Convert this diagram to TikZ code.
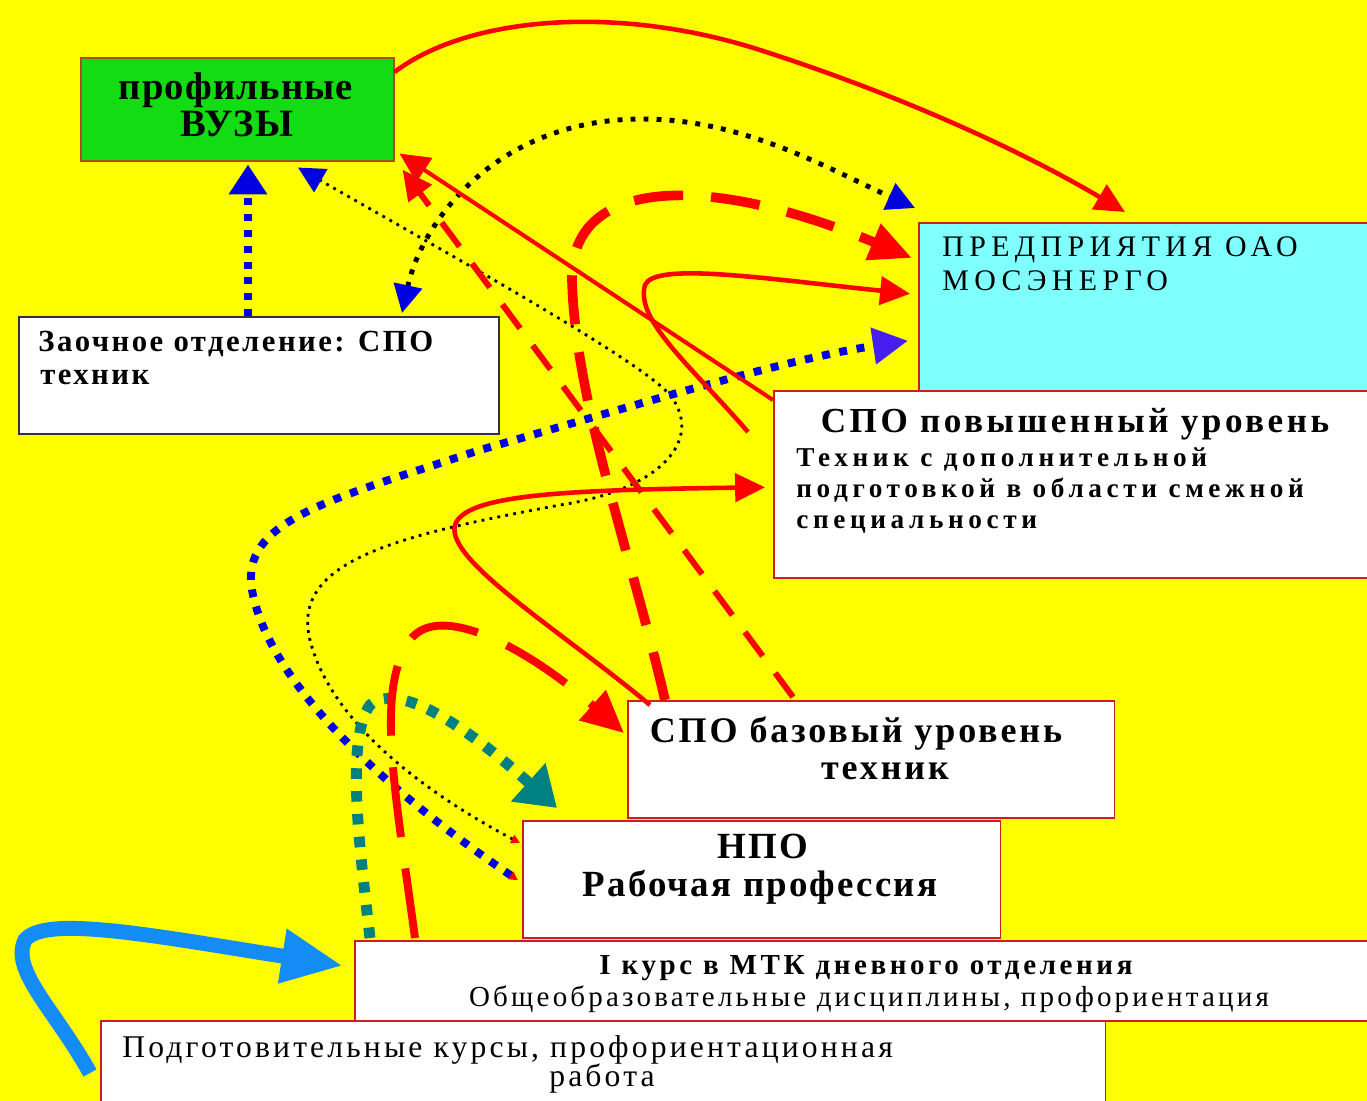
\documentclass[tikz,border=0pt]{standalone}
\usepackage{fontspec}
\setmainfont{Liberation Serif}
\usetikzlibrary{calc,arrows.meta}

\definecolor{bgyellow}{RGB}{255,255,0}
\definecolor{vuzgreen}{RGB}{20,220,20}
\definecolor{vuzedge}{RGB}{170,80,20}
\definecolor{zaoedge}{RGB}{50,50,60}
\definecolor{predcyan}{RGB}{128,255,255}
\definecolor{edgered}{RGB}{205,30,30}
\definecolor{linered}{RGB}{255,0,0}
\definecolor{dotblue}{RGB}{0,0,225}
\definecolor{tipviolet}{RGB}{70,30,240}
\definecolor{dotteal}{RGB}{0,128,128}
\definecolor{skyarrow}{RGB}{20,140,245}

\begin{document}
\begin{tikzpicture}[
x=0.02cm,
y=-0.02cm,
stagebox/.style={rectangle, draw=edgered, line width=0.9pt, fill=white, anchor=north west, inner sep=0pt},
boldline/.style 2 args={inner sep=0pt, font=\fontsize{#1}{#1}\selectfont\bfseries\addfontfeature{LetterSpace=#2}},
plainline/.style 2 args={inner sep=0pt, font=\fontsize{#1}{#1}\selectfont\addfontfeature{LetterSpace=#2}},
redsolid/.style={draw=linered, line width=2.6pt, -{Triangle[length=17pt,width=16pt]}},
blackdots/.style={draw=black, line width=2.8pt, dash pattern=on 2.8pt off 4.6pt},
bluedots/.style={draw=dotblue, line width=4pt, dash pattern=on 4pt off 5pt},
finedots/.style={draw=black, line width=1.6pt, dash pattern=on 1.6pt off 3pt},
bluedotsthick/.style={draw=dotblue, line width=4.5pt, dash pattern=on 4.5pt off 5.5pt},
tealdots/.style={draw=dotteal, line width=6.2pt, dash pattern=on 6pt off 7pt},
reddash/.style={draw=linered, line width=4.5pt, dash pattern=on 40pt off 18pt},
reddashwide/.style={draw=linered, line width=5.5pt, dash pattern=on 28pt off 16pt},
reddashthin/.style={draw=linered, line width=3.4pt, dash pattern=on 17pt off 12pt},
skypath/.style={draw=skyarrow, line width=8.5pt, -{Triangle[length=35pt,width=29pt]}},
]
\useasboundingbox (0,0) rectangle (1367,1101);
\clip (0,0) rectangle (1367,1101);
\fill[bgyellow] (0,0) rectangle (1367,1101);

\node[stagebox, draw=vuzedge, fill=vuzgreen, minimum width=6.26cm, minimum height=2.06cm] (vuz) at (80,57) {};
\node[stagebox, draw=zaoedge, line width=1.2pt, minimum width=9.6cm, minimum height=2.34cm] (zao) at (18,316) {};
\node[stagebox, fill=predcyan, minimum width=9.2cm, minimum height=3.36cm] (pred) at (918,222) {};
\node[stagebox, minimum width=12cm, minimum height=3.74cm] (povysh) at (773,390) {};
\node[stagebox, minimum width=9.74cm, minimum height=2.34cm] (base) at (627,700) {};
\node[stagebox, minimum width=9.56cm, minimum height=2.34cm] (npo) at (522,820) {};
\node[stagebox, minimum width=20.4cm, minimum height=1.6cm] (kurs) at (354,940) {};
\node[stagebox, minimum width=20.1cm, minimum height=1.8cm] (podg) at (100,1020) {};

\node[boldline={22}{3}, anchor=base] (vuzA) at (236,100) {профильные};
\node[boldline={22}{3}, anchor=base] (vuzB) at (237,137) {ВУЗЫ};
\node[boldline={17.5}{8}, anchor=base west] (zaoA) at (38,352) {Заочное отделение: СПО};
\node[boldline={17.5}{8}, anchor=base west] (zaoB) at (40,385) {техник};
\node[plainline={17}{18}, anchor=base west] (predA) at (942,257) {ПРЕДПРИЯТИЯ ОАО};
\node[plainline={17}{18}, anchor=base west] (predB) at (942,291) {МОСЭНЕРГО};
\node[boldline={20}{10}, anchor=base] (povyshA) at (1075,433) {СПО повышенный уровень};
\node[boldline={15.5}{17}, anchor=base west] (povyshB) at (796,467) {Техник с дополнительной};
\node[boldline={15.5}{17}, anchor=base west] (povyshC) at (796,498) {подготовкой в области смежной};
\node[boldline={15.5}{17}, anchor=base west] (povyshD) at (796,529) {специальности};
\node[boldline={20.5}{8}, anchor=base] (baseA) at (856,743) {СПО базовый уровень};
\node[boldline={20.5}{8}, anchor=base] (baseB) at (885,779) {техник};
\node[boldline={21}{6}, anchor=base] (npoA) at (763,858) {НПО};
\node[boldline={21}{6}, anchor=base] (npoB) at (760,896) {Рабочая профессия};
\node[boldline={16.5}{12.5}, anchor=base] (kursA) at (866,974) {I курс в МТК дневного отделения};
\node[plainline={16.5}{11}, anchor=base] (kursB) at (869,1006) {Общеобразовательные дисциплины, профориентация};
\node[plainline={18}{10}, anchor=base west] (podgA) at (122,1057) {Подготовительные курсы, профориентационная};
\node[plainline={18}{10}, anchor=base] (podgB) at (602,1086) {работа};

\draw[redsolid] ($(vuz.north east)+(0,15)$) .. controls (470,15) and (620,5) .. (760,50) .. controls (900,95) and (1020,150) .. ($(pred.north west)+(207,-10)$);
\draw[blackdots, {Triangle[color=dotblue,length=16pt,width=16pt]}-{Triangle[color=dotblue,length=16pt,width=16pt]}] ($(zao.north east)+(-98,-3)$) .. controls (420,230) and (480,140) .. (600,122) .. controls (720,105) and (820,165) .. ($(pred.north west)+(-3,-14)$);
\draw[bluedots, -{Triangle[length=17pt,width=21pt]}] ($(zao.north west)+(230,0)$) -- ($(vuz.south west)+(168,3)$);
\draw[finedots, {Triangle[color=linered,length=5pt,width=5pt]}-{Triangle[color=dotblue,length=15pt,width=15pt]}] ($(npo.north west)+(-2,23)$) .. controls (420,790) and (330,720) .. (310,640) .. controls (290,560) and (400,535) .. (560,505) .. controls (660,490) and (705,440) .. (670,395) .. controls (640,360) and (450,255) .. ($(vuz.south west)+(218,6)$);
\draw[bluedotsthick, {Triangle[color=linered,length=5pt,width=5pt]}-{Triangle[color=tipviolet,length=20pt,width=20pt]}] ($(npo.west)+(-4,1)$) .. controls (400,800) and (270,690) .. (252,590) .. controls (240,520) and (330,500) .. (480,450) .. controls (620,410) and (780,360) .. ($(pred.west)+(-10,34)$);
\draw[tealdots, -{Triangle[length=22pt,width=28pt]}] ($(kurs.north west)+(16,-2)$) .. controls (360,850) and (345,740) .. (370,705) .. controls (400,680) and (470,730) .. ($(npo.north west)+(35,-12)$);
\draw[reddash, -{Triangle[length=24pt,width=22pt]}] ($(kurs.north west)+(61,-2)$) .. controls (395,790) and (375,690) .. (410,640) .. controls (440,600) and (530,650) .. ($(base.north west)+(-3,33)$);
\draw[reddashwide, -{Triangle[length=24pt,width=21pt]}] ($(base.north west)+(38,0)$) .. controls (630,550) and (575,400) .. (572,280) .. controls (570,180) and (700,170) .. ($(pred.north west)+(-6,36)$);
\draw[reddashthin, -{Triangle[length=17pt,width=16pt]}] ($(base.north west)+(166,-3)$) -- ($(vuz.south east)+(8,8)$);
\draw[redsolid, line width=2.3pt] ($(povysh.north west)+(0,10)$) -- ($(vuz.south east)+(5,-8)$);
\draw[redsolid] ($(povysh.north west)+(-25,42)$) .. controls (690,365) and (635,320) .. (645,285) .. controls (655,262) and (760,278) .. ($(pred.west)+(-8,-13)$);
\draw[redsolid] ($(base.north west)+(23,5)$) .. controls (560,630) and (445,560) .. (455,525) .. controls (465,495) and (560,490) .. ($(povysh.west)+(-8,3)$);
\draw[skypath] ($(podg.north west)+(-10,53)$) .. controls (55,1010) and (10,970) .. (25,940) .. controls (45,915) and (150,935) .. ($(kurs.west)+(-11,-15)$);
\end{tikzpicture}
\end{document}
